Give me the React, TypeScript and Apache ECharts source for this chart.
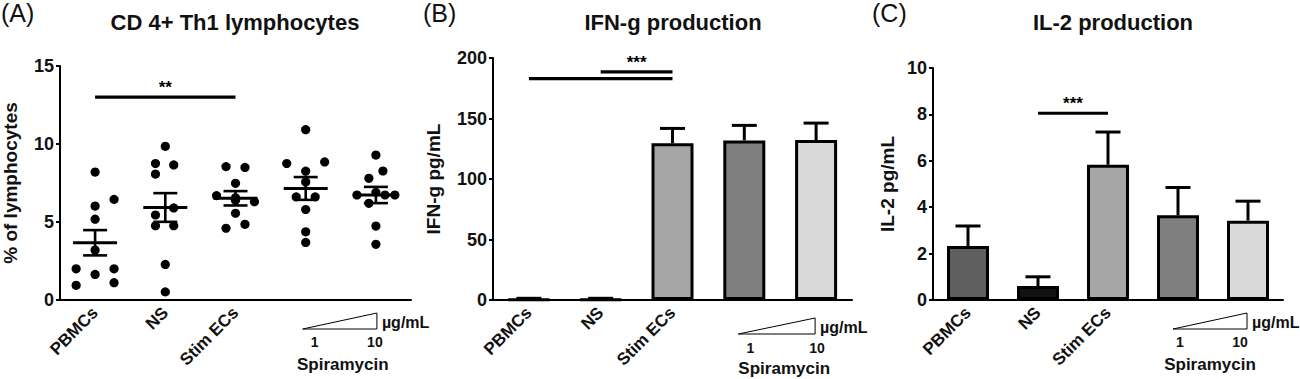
import React, { useEffect, useRef } from "react";
import * as echarts from "echarts";

const FONT = "'Liberation Sans', Arial, Helvetica, sans-serif";

const categories = ["PBMCs", "NS", "Stim ECs", "Spiramycin 1", "Spiramycin 10"];
const axisTickLabels = ["PBMCs", "NS", "Stim ECs", "", ""];

// Panel A – CD4+ Th1 lymphocytes (% of lymphocytes), individual values
const th1PBMCs = [8.2, 6.45, 6.02, 5.18, 3.2, 2.0, 2.0, 1.64, 0.94, 1.11];
const th1NS = [9.85, 8.75, 8.66, 8.07, 5.9, 5.45, 4.76, 4.76, 2.28, 0.52];
const th1StimECs = [8.55, 8.5, 7.48, 6.69, 6.3, 5.56, 4.6, 4.85, 6.4, 6.55];
const th1Spira1 = [10.92, 8.75, 8.85, 8.26, 7.57, 6.61, 6.61, 5.8, 4.37, 3.69];
const th1Spira10 = [9.29, 8.27, 7.8, 6.73, 6.73, 6.73, 6.2, 6.9, 4.74, 3.57];
// horizontal spread of the dots inside each column (fraction of the column width)
const jitterPBMCs = [0, 0.27, 0, 0, 0, -0.27, 0.27, 0, -0.27, 0.27];
const jitterNS = [0, -0.14, 0.12, -0.14, 0.12, -0.14, -0.14, 0.12, 0, 0];
const jitterStimECs = [-0.135, 0.135, 0, -0.27, 0.27, 0, -0.135, 0.135, 0, 0];
const jitterSpira1 = [0, -0.27, 0.27, 0, 0, -0.135, 0.135, 0, 0, 0];
const jitterSpira10 = [0, 0.1, -0.1, -0.27, 0.13, 0.27, -0.1, 0, 0, 0];
const th1Means = [3.67, 5.93, 6.52, 7.15, 6.73];
const th1Sem = [0.81, 0.92, 0.46, 0.73, 0.52];

// Panel B – IFN-g production (pg/mL)
const ifnValues = [0.6, 0.6, 129.6, 131.9, 132.2];
const ifnErrors = [0.8, 0.8, 12.2, 12.4, 14.0];

// Panel C – IL-2 production (pg/mL)
const il2Values = [2.33, 0.6, 5.83, 3.65, 3.42];
const il2Errors = [0.86, 0.4, 1.41, 1.2, 0.84];

const barColors = ["#5f5f5f", "#111111", "#a6a6a6", "#7f7f7f", "#d9d9d9"];

// significance brackets: start category, end category, height, label
const sigAStart = [0];
const sigAEnd = [2];
const sigAY = [13];
const sigALabel = ["**"];
const sigBStart = [0, 1];
const sigBEnd = [2, 2];
const sigBY = [183, 188.5];
const sigBLabel = ["", "***"];
const sigCStart = [1];
const sigCEnd = [2];
const sigCY = [8.05];
const sigCLabel = ["***"];

const titles = ["CD 4+ Th1 lymphocytes", "IFN-g production", "IL-2 production"];
const panelLetters = ["(A)", "(B)", "(C)"];
const yNames = ["% of lymphocytes", "IFN-g pg/mL", "IL-2 pg/mL"];
const yMax = [15, 200, 10];
const yInterval = [5, 50, 2];
const doseLabels = ["1", "10"];

// layout
const grids = [
  { left: 60, top: 66, width: 351, height: 234 },
  { left: 493, top: 58, width: 359, height: 242 },
  { left: 933, top: 68, width: 350, height: 232 },
];
const nameGaps = [40, 50, 36];
const titleX = [235, 673, 1113];
const letterX = [1, 423, 872];
const annot = [
  { triL: -3, triR: 1, triTop: 313, triBot: 329, numY: 342, oneDx: 9, tenDx: -1, spY: 364, spDx: 2 },
  { triL: -6, triR: -1, triTop: 318, triBot: 334, numY: 348, oneDx: 6, tenDx: 1, spY: 368, spDx: 4 },
  { triL: -5, triR: -1, triTop: 313, triBot: 329, numY: 342, oneDx: 2, tenDx: -8, spY: 364, spDx: -3 },
];

const tickX = (g: any, i: number) => g.left + (g.width / 5) * (i + 0.5);

const dotRender = (_p: any, api: any) => {
  const c = api.coord([api.value(0), api.value(1)]);
  const bw = api.size([1, 0])[0];
  return {
    type: "circle",
    shape: { cx: c[0] + api.value(2) * bw, cy: c[1], r: 4.6 },
    style: { fill: "#000" },
  };
};

const meanSemRender = (_p: any, api: any) => {
  const x = api.value(0);
  const m = api.value(1);
  const s = api.value(2);
  const pm = api.coord([x, m]);
  const pt = api.coord([x, m + s]);
  const pb = api.coord([x, m - s]);
  const st = { stroke: "#000", lineWidth: 2.6 };
  return {
    type: "group",
    children: [
      { type: "line", shape: { x1: pt[0], y1: pt[1], x2: pb[0], y2: pb[1] }, style: st },
      { type: "line", shape: { x1: pt[0] - 12, y1: pt[1], x2: pt[0] + 12, y2: pt[1] }, style: st },
      { type: "line", shape: { x1: pb[0] - 12, y1: pb[1], x2: pb[0] + 12, y2: pb[1] }, style: st },
      { type: "line", shape: { x1: pm[0] - 22, y1: pm[1], x2: pm[0] + 22, y2: pm[1] }, style: { stroke: "#000", lineWidth: 3 } },
    ],
  };
};

const errRender = (_p: any, api: any) => {
  const x = api.value(0);
  const v = api.value(1);
  const e = api.value(2);
  const p0 = api.coord([x, v]);
  const p1 = api.coord([x, v + e]);
  const st = { stroke: "#000", lineWidth: 3 };
  return {
    type: "group",
    children: [
      { type: "line", shape: { x1: p0[0], y1: p0[1], x2: p1[0], y2: p1[1] }, style: st },
      { type: "line", shape: { x1: p1[0] - 12.5, y1: p1[1], x2: p1[0] + 12.5, y2: p1[1] }, style: st },
    ],
  };
};

const sigRender = (labels: string[]) => (p: any, api: any) => {
  const a = api.coord([api.value(0), api.value(2)]);
  const b = api.coord([api.value(1), api.value(2)]);
  return {
    type: "group",
    children: [
      { type: "line", shape: { x1: a[0], y1: a[1], x2: b[0], y2: b[1] }, style: { stroke: "#000", lineWidth: 3.2 } },
      {
        type: "text",
        x: (a[0] + b[0]) / 2,
        y: a[1] - 1,
        style: {
          text: labels[p.dataIndex],
          fill: "#000",
          font: `bold 17px ${FONT}`,
          textAlign: "center",
          textVerticalAlign: "bottom",
        },
      },
    ],
  };
};

export default function App() {
  const ref = useRef<HTMLDivElement>(null);

  useEffect(() => {
    if (!ref.current) return;
    const chart = echarts.init(ref.current, undefined, { renderer: "svg" });

    const th1Groups = [th1PBMCs, th1NS, th1StimECs, th1Spira1, th1Spira10];
    const jitterGroups = [jitterPBMCs, jitterNS, jitterStimECs, jitterSpira1, jitterSpira10];
    const dotData: number[][] = [];
    th1Groups.forEach((g, ci) => g.forEach((v, k) => dotData.push([ci, v, jitterGroups[ci][k]])));
    const meanData = th1Means.map((m, i) => [i, m, th1Sem[i]]);

    const xAxes = grids.map((_, gi) => ({
      type: "category",
      gridIndex: gi,
      data: categories,
      axisLine: { lineStyle: { color: "#000", width: 2 } },
      axisTick: { alignWithLabel: true, length: 5, lineStyle: { color: "#000", width: 2 } },
      axisLabel: {
        rotate: 45,
        interval: 0,
        margin: 10,
        fontSize: 17,
        fontWeight: "bold",
        color: "#111",
        fontFamily: FONT,
        formatter: (_v: string, i: number) => axisTickLabels[i],
      },
      splitLine: { show: false },
    }));

    const yAxes = grids.map((_, gi) => ({
      type: "value",
      gridIndex: gi,
      min: 0,
      max: yMax[gi],
      interval: yInterval[gi],
      name: yNames[gi],
      nameLocation: "middle",
      nameGap: nameGaps[gi],
      nameRotate: 90,
      nameTextStyle: { fontSize: 19, fontWeight: "bold", color: "#111", fontFamily: FONT },
      axisLine: { show: true, lineStyle: { color: "#000", width: 2 } },
      axisTick: { show: true, length: 4, lineStyle: { color: "#000", width: 2 } },
      axisLabel: { fontSize: 18, fontWeight: "bold", color: "#111", fontFamily: FONT, margin: 6 },
      splitLine: { show: false },
    }));

    const barData = (vals: number[]) =>
      vals.map((v, i) => ({ value: v, itemStyle: { color: barColors[i] } }));

    const graphic: any[] = [];
    grids.forEach((g, gi) => {
      graphic.push({
        type: "text",
        x: titleX[gi],
        y: 22,
        style: { text: titles[gi], fill: "#111", font: `bold 22px ${FONT}`, textAlign: "center", textVerticalAlign: "middle" },
      });
      graphic.push({
        type: "text",
        x: letterX[gi],
        y: 0,
        style: { text: panelLetters[gi], fill: "#111", font: `25px ${FONT}`, textAlign: "left", textVerticalAlign: "top" },
      });
      const a = annot[gi];
      const t3 = tickX(g, 3);
      const t4 = tickX(g, 4);
      const L = t3 + a.triL;
      const R = t4 + a.triR;
      graphic.push({
        type: "polygon",
        shape: { points: [[L, a.triBot], [R, a.triTop], [R, a.triBot]] },
        style: { fill: "#fff", stroke: "#000", lineWidth: 1 },
      });
      graphic.push({
        type: "text",
        x: R + 5,
        y: (a.triTop + a.triBot) / 2 + 1,
        style: { text: "µg/mL", fill: "#111", font: `bold 16px ${FONT}`, textAlign: "left", textVerticalAlign: "middle" },
      });
      graphic.push({
        type: "text",
        x: t3 + a.oneDx,
        y: a.numY,
        style: { text: doseLabels[0], fill: "#111", font: `bold 14px ${FONT}`, textAlign: "center", textVerticalAlign: "middle" },
      });
      graphic.push({
        type: "text",
        x: t4 + a.tenDx,
        y: a.numY,
        style: { text: doseLabels[1], fill: "#111", font: `bold 14px ${FONT}`, textAlign: "center", textVerticalAlign: "middle" },
      });
      graphic.push({
        type: "text",
        x: (t3 + t4) / 2 + a.spDx,
        y: a.spY,
        style: { text: "Spiramycin", fill: "#111", font: `bold 17px ${FONT}`, textAlign: "center", textVerticalAlign: "middle" },
      });
    });

    chart.setOption({
      animation: false,
      backgroundColor: "#fff",
      grid: grids.map((g) => ({ ...g, containLabel: false, outerBoundsMode: "none" })),
      xAxis: xAxes,
      yAxis: yAxes,
      graphic,
      series: [
        {
          type: "custom",
          xAxisIndex: 0,
          yAxisIndex: 0,
          renderItem: dotRender,
          encode: { x: 0, y: 1 },
          data: dotData,
          z: 3,
        },
        {
          type: "custom",
          xAxisIndex: 0,
          yAxisIndex: 0,
          renderItem: meanSemRender,
          encode: { x: 0, y: 1 },
          data: meanData,
          z: 4,
        },
        {
          type: "custom",
          xAxisIndex: 0,
          yAxisIndex: 0,
          renderItem: sigRender(sigALabel),
          encode: { x: [0, 1], y: 2 },
          data: sigAStart.map((s, i) => [s, sigAEnd[i], sigAY[i]]),
          z: 4,
        },
        {
          type: "bar",
          xAxisIndex: 1,
          yAxisIndex: 1,
          barWidth: 42,
          data: barData(ifnValues),
          itemStyle: { borderColor: "#000", borderWidth: 3 },
          z: 2,
        },
        {
          type: "custom",
          xAxisIndex: 1,
          yAxisIndex: 1,
          renderItem: errRender,
          encode: { x: 0, y: 1 },
          data: ifnValues.map((v, i) => [i, v, ifnErrors[i]]),
          z: 3,
        },
        {
          type: "custom",
          xAxisIndex: 1,
          yAxisIndex: 1,
          renderItem: sigRender(sigBLabel),
          encode: { x: [0, 1], y: 2 },
          data: sigBStart.map((s, i) => [s, sigBEnd[i], sigBY[i]]),
          z: 4,
        },
        {
          type: "bar",
          xAxisIndex: 2,
          yAxisIndex: 2,
          barWidth: 42,
          data: barData(il2Values),
          itemStyle: { borderColor: "#000", borderWidth: 3 },
          z: 2,
        },
        {
          type: "custom",
          xAxisIndex: 2,
          yAxisIndex: 2,
          renderItem: errRender,
          encode: { x: 0, y: 1 },
          data: il2Values.map((v, i) => [i, v, il2Errors[i]]),
          z: 3,
        },
        {
          type: "custom",
          xAxisIndex: 2,
          yAxisIndex: 2,
          renderItem: sigRender(sigCLabel),
          encode: { x: [0, 1], y: 2 },
          data: sigCStart.map((s, i) => [s, sigCEnd[i], sigCY[i]]),
          z: 4,
        },
      ],
    });

    return () => chart.dispose();
  }, []);

  return (
    <div
      ref={ref}
      style={{ position: "absolute", left: 0, top: 0, width: 1300, height: 379, background: "#fff" }}
    />
  );
}
